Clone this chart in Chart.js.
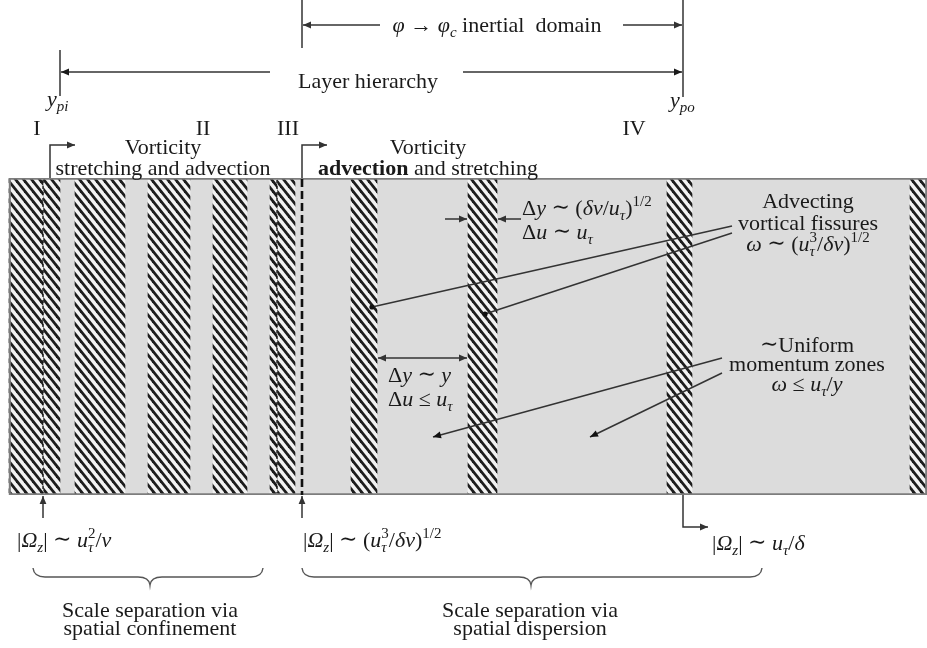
<!DOCTYPE html>
<html>
<head>
<meta charset="utf-8">
<script src="https://cdn.jsdelivr.net/npm/chart.js@4.4.1/dist/chart.umd.min.js"></script>
<style>
  html, body { margin: 0; padding: 0; background: #ffffff; }
  canvas { display: block; }
</style>
</head>
<body>
<canvas id="c" width="927" height="648"></canvas>
<script>
// Wall-normal extent of each vortical fissure (left / right edge, diagram units)
const fissureFrom = [9, 43, 75, 148, 213, 270, 277, 351, 468, 667, 910];
const fissureTo   = [43, 60, 125, 190, 247, 277, 295, 377, 497, 692, 927];
// Phase breaks in the hatching of the near-wall fissures
const seams = [43, 277];
// Extent of the shaded flow region
const domain = [9, 927];
// Layer landmarks: y_pi, start of region III, y_po
const yPi = 60, yIII = 302, yPo = 683;
// Region numerals and their positions
const regionLabels = ['I', 'II', 'III', 'IV'];
const regionAt = [37, 203, 288, 634];

const FAM = "'Liberation Serif', 'Times New Roman', 'DejaVu Serif', serif";
const INK = '#1a1a1a';
const LINE = '#333333';

// rich-text segments
const T  = t => ({ t });
const It = t => ({ t, it: true });
const Bd = t => ({ t, bold: true });
const Sb = (t, it = true) => ({ t, it, sub: true });
const Sp = t => ({ t, sup: true });
const SS = (lo, hi) => ({ stack: true, lo, hi });
const Sim = t => ({ t, sim: true });
const SIM = ' \u223C ';
const LEQ = ' \u2264 ';

function segFont(s, size) {
  let sz = (s.sub || s.sup) ? Math.round(size * 0.68) : size;
  return (s.it ? 'italic ' : '') + (s.bold ? 'bold ' : '') + sz + 'px ' + FAM;
}
function segWidth(ctx, s, size) {
  if (s.stack) {
    ctx.font = 'italic ' + Math.round(size * 0.68) + 'px ' + FAM;
    const a = ctx.measureText(s.lo).width;
    ctx.font = Math.round(size * 0.68) + 'px ' + FAM;
    const b = ctx.measureText(s.hi).width;
    return Math.max(a, b);
  }
  ctx.font = segFont(s, size);
  return ctx.measureText(s.t).width;
}
function drawRich(ctx, segs, x, y, size, align) {
  if (typeof segs === 'string') segs = [T(segs)];
  let w = 0;
  for (const s of segs) w += segWidth(ctx, s, size);
  let cx = align === 'center' ? x - w / 2 : x;
  ctx.textAlign = 'left';
  ctx.textBaseline = 'alphabetic';
  ctx.fillStyle = INK;
  for (const s of segs) {
    const sw = segWidth(ctx, s, size);
    if (s.stack) {
      ctx.font = 'italic ' + Math.round(size * 0.68) + 'px ' + FAM;
      ctx.fillText(s.lo, cx, y + size * 0.22);
      ctx.font = Math.round(size * 0.68) + 'px ' + FAM;
      ctx.fillText(s.hi, cx, y - size * 0.42);
    } else {
      ctx.font = segFont(s, size);
      const dy = s.sub ? size * 0.22 : (s.sup ? -size * 0.42 : (s.sim ? -size * 0.03 : 0));
      ctx.fillText(s.t, cx, y + dy);
    }
    cx += sw;
  }
}

function polyline(ctx, pts) {
  ctx.beginPath();
  ctx.moveTo(pts[0][0], pts[0][1]);
  for (let i = 1; i < pts.length; i++) ctx.lineTo(pts[i][0], pts[i][1]);
  ctx.stroke();
}
function head(ctx, x1, y1, x2, y2, L = 8, W = 3.4) {
  const a = Math.atan2(y2 - y1, x2 - x1);
  ctx.beginPath();
  ctx.moveTo(x2, y2);
  ctx.lineTo(x2 - L * Math.cos(a) + W * Math.sin(a), y2 - L * Math.sin(a) - W * Math.cos(a));
  ctx.lineTo(x2 - L * Math.cos(a) - W * Math.sin(a), y2 - L * Math.sin(a) + W * Math.cos(a));
  ctx.closePath();
  ctx.fill();
}
function arrow(ctx, pts) {
  polyline(ctx, pts);
  const n = pts.length;
  head(ctx, pts[n - 2][0], pts[n - 2][1], pts[n - 1][0], pts[n - 1][1]);
}
function dot(ctx, x, y) {
  ctx.beginPath();
  ctx.arc(x, y, 2.6, 0, Math.PI * 2);
  ctx.fill();
}
function brace(ctx, x1, x2, tip, y0) {
  const r = 12, m = y0 + 9, t = y0 + 17;
  ctx.beginPath();
  ctx.moveTo(x1, y0);
  ctx.quadraticCurveTo(x1 + 1, m, x1 + r, m);
  ctx.lineTo(tip - r, m);
  ctx.quadraticCurveTo(tip - 1, m, tip, t);
  ctx.quadraticCurveTo(tip + 1, m, tip + r, m);
  ctx.lineTo(x2 - r, m);
  ctx.quadraticCurveTo(x2 - 1, m, x2, y0);
  ctx.stroke();
}

// diagonal hatching used for the fissures
function makeHatch(ctx, shift) {
  const w = 8, h = 10;
  const c = document.createElement('canvas');
  c.width = w; c.height = h;
  const g = c.getContext('2d');
  g.fillStyle = '#f2f2f2';
  g.fillRect(0, 0, w, h);
  g.strokeStyle = '#1d1d1d';
  g.lineWidth = 2.7;
  for (let k = -3; k <= 3; k++) {
    const x0 = k * w + shift;
    g.beginPath();
    g.moveTo(x0 - w, -h);
    g.lineTo(x0 + 2 * w, 2 * h);
    g.stroke();
  }
  return ctx.createPattern(c, 'repeat');
}

const layerAnnotations = {
  id: 'layerAnnotations',
  afterDatasetsDraw(chart) {
    const ctx = chart.ctx, xs = chart.scales.x, area = chart.chartArea;
    const X = v => xs.getPixelForValue(v);
    ctx.save();
    ctx.strokeStyle = '#111111';
    // hatching breaks inside the near-wall fissures
    ctx.lineWidth = 1.3;
    ctx.setLineDash([3, 3]);
    for (const s of seams) polyline(ctx, [[X(s), area.top + 2], [X(s), area.bottom - 2]]);
    // start of region III
    ctx.lineWidth = 2.6;
    ctx.setLineDash([8, 4]);
    polyline(ctx, [[X(yIII), area.top + 1], [X(yIII), area.bottom]]);
    ctx.restore();
  },
  afterDraw(chart) {
    const ctx = chart.ctx, xs = chart.scales.x, area = chart.chartArea;
    const X = v => xs.getPixelForValue(v);
    const top = area.top, bot = area.bottom;
    const fs = 22;
    ctx.save();
    ctx.strokeStyle = LINE;
    ctx.fillStyle = LINE;
    ctx.lineWidth = 1.5;
    ctx.setLineDash([]);

    // inertial domain bracket
    polyline(ctx, [[X(yIII), 0], [X(yIII), 48]]);
    polyline(ctx, [[X(yPo), 0], [X(yPo), 97]]);
    arrow(ctx, [[X(380), 25], [X(yIII) + 1, 25]]);
    arrow(ctx, [[X(623), 25], [X(yPo) - 1, 25]]);
    drawRich(ctx, [It('\u03C6'), T(' \u2192 '), It('\u03C6'), Sb('c'), T(' inertial  domain')], X(497), 32, fs, 'center');

    // layer hierarchy bracket
    polyline(ctx, [[X(yPi), 50], [X(yPi), 96]]);
    arrow(ctx, [[X(270), 72], [X(yPi) + 1, 72]]);
    arrow(ctx, [[X(463), 72], [X(yPo) - 1, 72]]);
    drawRich(ctx, 'Layer hierarchy', X(368), 88, fs, 'center');
    drawRich(ctx, [It('y'), Sb('pi')], X(47), 106, fs, 'left');
    drawRich(ctx, [It('y'), Sb('po')], X(670), 107, fs, 'left');

    // region numerals
    regionLabels.forEach((r, i) => drawRich(ctx, r, X(regionAt[i]), 135, fs, 'center'));

    // process labels above the domain
    ctx.fillStyle = LINE;
    arrow(ctx, [[X(50), top], [X(50), 145], [X(75), 145]]);
    arrow(ctx, [[X(yIII), top], [X(yIII), 145], [X(327), 145]]);
    drawRich(ctx, 'Vorticity', X(163), 154, fs, 'center');
    drawRich(ctx, 'stretching and advection', X(163), 175, fs, 'center');
    drawRich(ctx, 'Vorticity', X(428), 154, fs, 'center');
    drawRich(ctx, [Bd('advection'), T(' and stretching')], X(428), 175, fs, 'center');

    // fissure thickness
    ctx.fillStyle = LINE;
    arrow(ctx, [[X(445), 219], [X(467), 219]]);
    arrow(ctx, [[X(521), 219], [X(498), 219]]);
    drawRich(ctx, [T('\u0394'), It('y'), Sim(SIM), T('('), It('\u03B4\u03BD'), T('/'), It('u'), Sb('\u03C4'), T(')'), Sp('1/2')], X(522), 215, fs, 'left');
    drawRich(ctx, [T('\u0394'), It('u'), Sim(SIM), It('u'), Sb('\u03C4')], X(522), 239, fs, 'left');

    // zone spacing
    ctx.fillStyle = LINE;
    polyline(ctx, [[X(378), 358], [X(467), 358]]);
    head(ctx, X(400), 358, X(378), 358);
    head(ctx, X(440), 358, X(467), 358);
    drawRich(ctx, [T('\u0394'), It('y'), Sim(SIM), It('y')], X(388), 382, fs, 'left');
    drawRich(ctx, [T('\u0394'), It('u'), T(LEQ), It('u'), Sb('\u03C4')], X(388), 406, fs, 'left');

    // fissure leaders
    ctx.fillStyle = '#111111';
    polyline(ctx, [[X(372), 307], [X(732), 226]]);
    polyline(ctx, [[X(485), 314], [X(732), 233]]);
    dot(ctx, X(372), 307);
    dot(ctx, X(485), 314);
    drawRich(ctx, 'Advecting', X(808), 208, fs, 'center');
    drawRich(ctx, 'vortical fissures', X(808), 230, fs, 'center');
    drawRich(ctx, [It('\u03C9'), Sim(SIM), T('('), It('u'), SS('\u03C4', '3'), T('/'), It('\u03B4\u03BD'), T(')'), Sp('1/2')], X(808), 251, fs, 'center');

    // uniform momentum zone leaders
    ctx.fillStyle = '#111111';
    arrow(ctx, [[X(722), 358], [X(433), 437]]);
    arrow(ctx, [[X(722), 373], [X(590), 437]]);
    drawRich(ctx, [Sim('\u223C'), T('Uniform')], X(807), 352, fs, 'center');
    drawRich(ctx, 'momentum zones', X(807), 371, fs, 'center');
    drawRich(ctx, [It('\u03C9'), T(LEQ), It('u'), Sb('\u03C4'), T('/'), It('y')], X(807), 391, fs, 'center');

    // vorticity magnitudes below the domain
    ctx.fillStyle = LINE;
    arrow(ctx, [[X(43), 518], [X(43), bot + 1]]);
    arrow(ctx, [[X(yIII), 518], [X(yIII), bot + 1]]);
    arrow(ctx, [[X(yPo), bot], [X(yPo), 527], [X(708), 527]]);
    drawRich(ctx, [T('|'), It('\u03A9'), Sb('z'), T('|'), Sim(SIM), It('u'), SS('\u03C4', '2'), T('/'), It('\u03BD')], X(17), 547, fs, 'left');
    drawRich(ctx, [T('|'), It('\u03A9'), Sb('z'), T('|'), Sim(SIM), T('('), It('u'), SS('\u03C4', '3'), T('/'), It('\u03B4\u03BD'), T(')'), Sp('1/2')], X(303), 547, fs, 'left');
    drawRich(ctx, [T('|'), It('\u03A9'), Sb('z'), T('|'), Sim(SIM), It('u'), Sb('\u03C4'), T('/'), It('\u03B4')], X(712), 550, fs, 'left');

    // scale separation braces
    ctx.strokeStyle = '#555555';
    ctx.lineWidth = 1.4;
    brace(ctx, X(33), X(263), X(150), 568);
    brace(ctx, X(yIII), X(762), X(531), 568);
    drawRich(ctx, 'Scale separation via', X(150), 617, fs, 'center');
    drawRich(ctx, 'spatial confinement', X(150), 635, fs, 'center');
    drawRich(ctx, 'Scale separation via', X(530), 617, fs, 'center');
    drawRich(ctx, 'spatial dispersion', X(530), 635, fs, 'center');
    ctx.restore();
  }
};

const ctx = document.getElementById('c').getContext('2d');
const hatchA = makeHatch(ctx, 0);
const hatchB = makeHatch(ctx, 4);

const fissureSets = fissureFrom.map((a, i) => ({
  label: 'fissure ' + (i + 1),
  data: [[a, fissureTo[i]]],
  backgroundColor: seams.includes(a) ? hatchB : hatchA,
  borderWidth: 0,
  grouped: false,
  order: 1
}));

new Chart(ctx, {
  type: 'bar',
  data: {
    labels: ['flow'],
    datasets: [
      { label: 'region', data: [domain], backgroundColor: '#dcdcdc', borderWidth: 0, grouped: false, order: 3 },
      ...fissureSets,
      { label: 'outline', data: [domain], backgroundColor: 'rgba(0,0,0,0)', borderColor: '#7d7d7d',
        borderWidth: 1.5, borderSkipped: false, grouped: false, order: 0 }
    ]
  },
  options: {
    indexAxis: 'y',
    responsive: false,
    animation: false,
    events: [],
    layout: { padding: { top: 178, bottom: 153, left: 0, right: 0 } },
    datasets: { bar: { categoryPercentage: 1, barPercentage: 1 } },
    scales: {
      x: { type: 'linear', min: 0, max: 927, display: false },
      y: { display: false }
    },
    plugins: { legend: { display: false }, tooltip: { enabled: false } }
  },
  plugins: [layerAnnotations]
});
</script>
</body>
</html>
